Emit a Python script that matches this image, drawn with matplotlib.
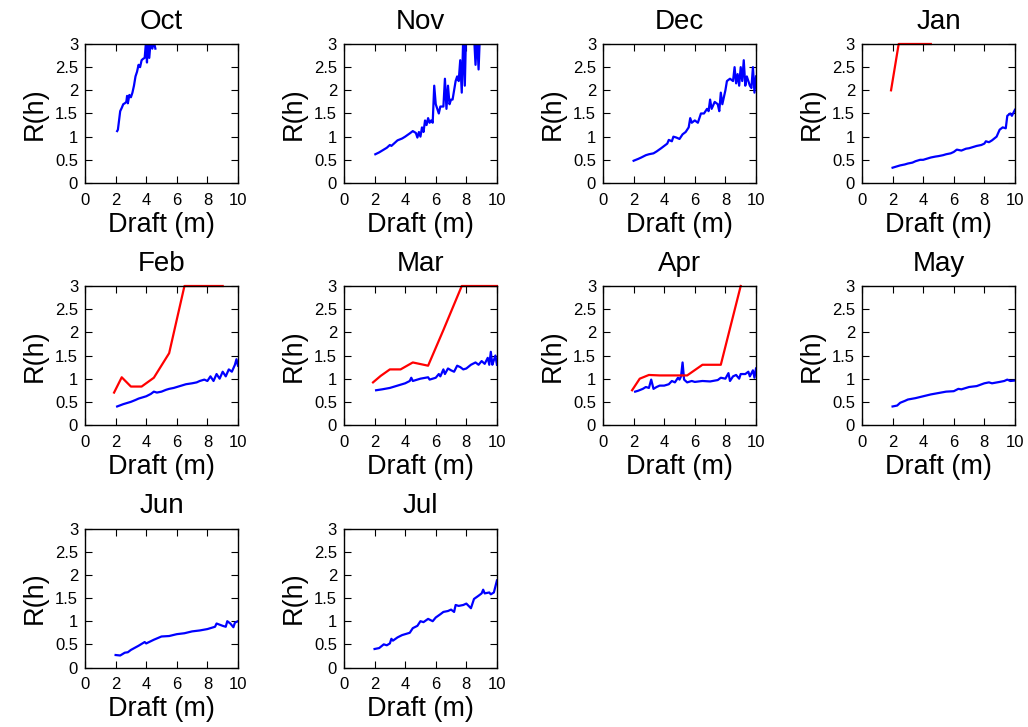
import matplotlib
matplotlib.use("Agg")
import matplotlib.pyplot as plt

plt.rcParams['font.family'] = ['Liberation Sans', 'DejaVu Sans']

months = ["Oct", "Nov", "Dec", "Jan", "Feb", "Mar", "Apr", "May", "Jun", "Jul"]

# blue curves: draft (m) vs R(h)
oct_x = [2.1, 2.15, 2.3, 2.4, 2.5, 2.6, 2.7, 2.75, 2.8, 2.9, 3.0, 3.1, 3.2, 3.3, 3.4, 3.5, 3.6, 3.7, 3.8, 3.9, 4.0, 4.05, 4.1, 4.2, 4.3, 4.4, 4.5, 4.6]
oct_y = [1.12, 1.15, 1.55, 1.62, 1.7, 1.72, 1.75, 1.88, 1.72, 1.9, 1.85, 1.95, 2.1, 2.3, 2.4, 2.55, 2.5, 2.65, 2.68, 2.7, 3.1, 2.6, 3.05, 2.7, 3.1, 2.9, 3.05, 2.9]

nov_x = [2.05, 2.3, 2.5, 2.8, 3.0, 3.1, 3.3, 3.5, 3.8, 4.0, 4.3, 4.5, 4.7, 4.8, 4.9, 5.0, 5.1, 5.2, 5.3, 5.4, 5.5, 5.6, 5.7, 5.8, 5.9, 6.0, 6.1, 6.2, 6.3, 6.5, 6.6, 6.7, 6.8, 6.9, 7.0, 7.1, 7.3, 7.4, 7.5, 7.6, 7.7, 7.8, 7.9, 8.0, 8.1, 8.3, 8.5, 8.6, 8.7, 8.8, 8.9, 9.0]
nov_y = [0.62, 0.66, 0.7, 0.76, 0.82, 0.8, 0.86, 0.92, 0.96, 1.0, 1.07, 1.12, 1.08, 0.98, 1.1, 1.0, 1.2, 1.1, 1.35, 1.25, 1.4, 1.3, 1.35, 1.3, 2.1, 1.7, 1.6, 1.5, 1.65, 1.65, 2.25, 1.6, 2.1, 1.7, 1.8, 1.8, 2.2, 2.3, 2.2, 2.65, 1.95, 3.2, 2.1, 3.5, 3.2, 3.1, 3.2, 2.55, 3.2, 2.45, 3.3, 3.5]

dec_x = [2.0, 2.3, 2.5, 2.8, 3.0, 3.3, 3.5, 3.8, 4.0, 4.2, 4.3, 4.5, 4.6, 4.8, 5.0, 5.2, 5.4, 5.6, 5.7, 5.8, 6.0, 6.2, 6.4, 6.6, 6.8, 6.9, 7.0, 7.1, 7.3, 7.5, 7.6, 7.7, 7.8, 8.0, 8.1, 8.3, 8.5, 8.6, 8.7, 8.8, 8.9, 9.0, 9.1, 9.2, 9.3, 9.4, 9.5, 9.6, 9.7, 9.8, 9.9, 10.0]
dec_y = [0.48, 0.52, 0.55, 0.6, 0.62, 0.64, 0.68, 0.75, 0.8, 0.85, 0.93, 0.9, 1.0, 0.98, 0.95, 1.05, 1.1, 1.2, 1.4, 1.3, 1.35, 1.3, 1.5, 1.5, 1.6, 1.55, 1.8, 1.6, 1.75, 1.7, 1.55, 1.95, 1.7, 2.0, 2.2, 2.25, 2.2, 2.5, 2.15, 2.35, 2.1, 2.5, 2.2, 2.65, 2.1, 2.3, 2.2, 2.1, 2.05, 2.5, 1.95, 2.3]

jan_x = [2.0, 2.3, 2.5, 2.8, 3.0, 3.3, 3.5, 3.8, 4.0, 4.3, 4.5, 4.8, 5.0, 5.3, 5.5, 5.8, 6.0, 6.2, 6.5, 6.8, 7.0, 7.3, 7.5, 7.8, 8.0, 8.1, 8.3, 8.5, 8.8, 9.0, 9.2, 9.4, 9.5, 9.7, 9.8, 10.0]
jan_y = [0.33, 0.36, 0.38, 0.4, 0.42, 0.44, 0.47, 0.5, 0.5, 0.53, 0.55, 0.57, 0.58, 0.6, 0.62, 0.64, 0.67, 0.72, 0.7, 0.74, 0.75, 0.78, 0.8, 0.82, 0.85, 0.9, 0.88, 0.92, 1.0, 1.15, 1.2, 1.18, 1.45, 1.5, 1.45, 1.58]

feb_x = [2.1, 2.5, 2.8, 3.0, 3.3, 3.5, 3.8, 4.0, 4.3, 4.5, 4.7, 5.0, 5.3, 5.5, 5.8, 6.0, 6.3, 6.6, 7.0, 7.3, 7.5, 7.8, 8.0, 8.2, 8.4, 8.6, 8.8, 9.0, 9.2, 9.4, 9.6, 9.8, 9.9, 10.0]
feb_y = [0.4, 0.45, 0.48, 0.5, 0.54, 0.57, 0.6, 0.62, 0.67, 0.72, 0.7, 0.72, 0.76, 0.78, 0.8, 0.82, 0.85, 0.88, 0.9, 0.92, 0.95, 0.98, 0.95, 1.05, 0.95, 1.1, 1.0, 1.15, 1.05, 1.2, 1.15, 1.3, 1.42, 1.28]

mar_x = [2.1, 2.5, 3.0, 3.5, 4.0, 4.3, 4.4, 4.5, 5.0, 5.5, 5.6, 6.0, 6.2, 6.3, 6.5, 6.6, 6.8, 7.0, 7.2, 7.4, 7.6, 7.8, 8.0, 8.3, 8.6, 8.8, 9.0, 9.2, 9.4, 9.5, 9.6, 9.7, 9.8, 9.9, 10.0]
mar_y = [0.75, 0.77, 0.8, 0.85, 0.9, 0.95, 1.02, 0.95, 1.0, 1.03, 0.98, 1.02, 1.1, 1.05, 1.2, 1.1, 1.22, 1.18, 1.15, 1.28, 1.25, 1.2, 1.22, 1.3, 1.35, 1.3, 1.38, 1.32, 1.45, 1.3, 1.58, 1.3, 1.4, 1.5, 1.3]

apr_x = [2.1, 2.3, 2.6, 2.8, 3.0, 3.15, 3.3, 3.5, 3.7, 4.0, 4.3, 4.5, 4.7, 4.9, 5.0, 5.1, 5.2, 5.3, 5.5, 5.8, 6.0, 6.5, 7.0, 7.5, 7.7, 8.0, 8.2, 8.3, 8.5, 8.7, 8.9, 9.0, 9.3, 9.5, 9.6, 9.8, 9.9, 10.0]
apr_y = [0.72, 0.74, 0.78, 0.82, 0.8, 0.98, 0.78, 0.82, 0.85, 0.85, 0.88, 0.95, 0.92, 1.02, 0.98, 1.05, 1.35, 0.98, 0.92, 0.95, 0.93, 0.95, 0.94, 0.97, 1.02, 1.0, 1.12, 0.95, 1.05, 1.08, 1.0, 1.1, 1.1, 1.15, 1.05, 1.18, 1.02, 1.22]

may_x = [2.0, 2.3, 2.5, 2.8, 3.0, 3.5, 4.0, 4.5, 5.0, 5.5, 6.0, 6.3, 6.5, 7.0, 7.5, 8.0, 8.3, 8.5, 9.0, 9.3, 9.5, 9.7, 10.0]
may_y = [0.4, 0.42, 0.48, 0.52, 0.55, 0.58, 0.62, 0.66, 0.69, 0.72, 0.73, 0.78, 0.77, 0.82, 0.84, 0.9, 0.92, 0.9, 0.93, 0.95, 0.98, 0.95, 0.96]

jun_x = [2.0, 2.3, 2.6, 2.8, 3.0, 3.5, 3.9, 4.0, 4.5, 5.0, 5.5, 6.0, 6.5, 7.0, 7.5, 8.0, 8.5, 8.6, 9.0, 9.2, 9.3, 9.5, 9.7, 9.8, 10.0]
jun_y = [0.27, 0.26, 0.32, 0.33, 0.38, 0.47, 0.55, 0.52, 0.6, 0.67, 0.68, 0.72, 0.74, 0.78, 0.8, 0.83, 0.88, 0.95, 0.9, 0.88, 1.0, 0.95, 0.87, 0.97, 1.0]

jul_x = [2.0, 2.3, 2.6, 2.8, 3.0, 3.1, 3.2, 3.5, 3.8, 4.0, 4.3, 4.5, 4.8, 5.0, 5.2, 5.5, 5.8, 6.0, 6.3, 6.5, 6.8, 7.0, 7.2, 7.3, 7.5, 7.8, 8.0, 8.3, 8.5, 8.8, 9.0, 9.1, 9.2, 9.5, 9.6, 9.8, 10.0]
jul_y = [0.4, 0.42, 0.5, 0.48, 0.52, 0.62, 0.58, 0.65, 0.7, 0.72, 0.75, 0.85, 0.9, 1.0, 0.98, 1.05, 1.0, 1.08, 1.15, 1.2, 1.22, 1.25, 1.2, 1.35, 1.33, 1.35, 1.38, 1.28, 1.48, 1.55, 1.6, 1.68, 1.6, 1.62, 1.58, 1.62, 1.88]

# red curves (capped at 3)
red_x = [1.9, 2.4, 3.0, 3.7, 4.5, 5.5, 6.5, 7.7, 9.0, 10.0]
jan_red = [2.0, 3.0, 3.0, 3.0, 3.0]
feb_red = [0.7, 1.03, 0.83, 0.83, 1.02, 1.55, 3.0, 3.0, 3.0]
mar_red = [0.92, 1.06, 1.2, 1.2, 1.35, 1.28, 2.05, 3.0, 3.0, 3.0]
apr_red = [0.75, 1.0, 1.08, 1.07, 1.07, 1.07, 1.3, 1.3, 3.0]

blue = [(oct_x, oct_y), (nov_x, nov_y), (dec_x, dec_y), (jan_x, jan_y), (feb_x, feb_y),
        (mar_x, mar_y), (apr_x, apr_y), (may_x, may_y), (jun_x, jun_y), (jul_x, jul_y)]
red = {"Jan": jan_red, "Feb": feb_red, "Mar": mar_red, "Apr": apr_red}

fig = plt.figure(figsize=(10.28, 7.27), dpi=100)

lefts = [0.0827, 0.3346, 0.5866, 0.8385]
bottoms = [0.7483, 0.4154, 0.0818]
w, h = 0.1488, 0.1912

for i, m in enumerate(months):
    r, c = divmod(i, 4)
    ax = fig.add_axes([lefts[c], bottoms[r], w, h])
    bx, by = blue[i]
    ax.plot(bx, by, color="#0000ff", lw=1.6)
    if m in red:
        ry = red[m]
        ax.plot(red_x[:len(ry)], ry, color="#ff0000", lw=1.6, clip_on=False)
    ax.set_xlim(0, 10)
    ax.set_ylim(0, 3)
    ax.set_xticks([0, 2, 4, 6, 8, 10])
    ax.set_yticks([0, 0.5, 1, 1.5, 2, 2.5, 3])
    ax.set_yticklabels(["0", "0.5", "1", "1.5", "2", "2.5", "3"])
    ax.tick_params(direction="in", top=True, right=True, length=5, width=0.8, labelsize=12)
    ax.tick_params(axis="x", pad=7)
    ax.tick_params(axis="y", pad=5)
    for s in ax.spines.values():
        s.set_linewidth(1.0)
    ax.set_title(m, fontsize=20, pad=11)
    ax.set_xlabel("Draft (m)", fontsize=19.5, labelpad=3)
    ax.set_ylabel("R(h)", fontsize=19.5, labelpad=5)

plt.savefig("out.png", dpi=100)
